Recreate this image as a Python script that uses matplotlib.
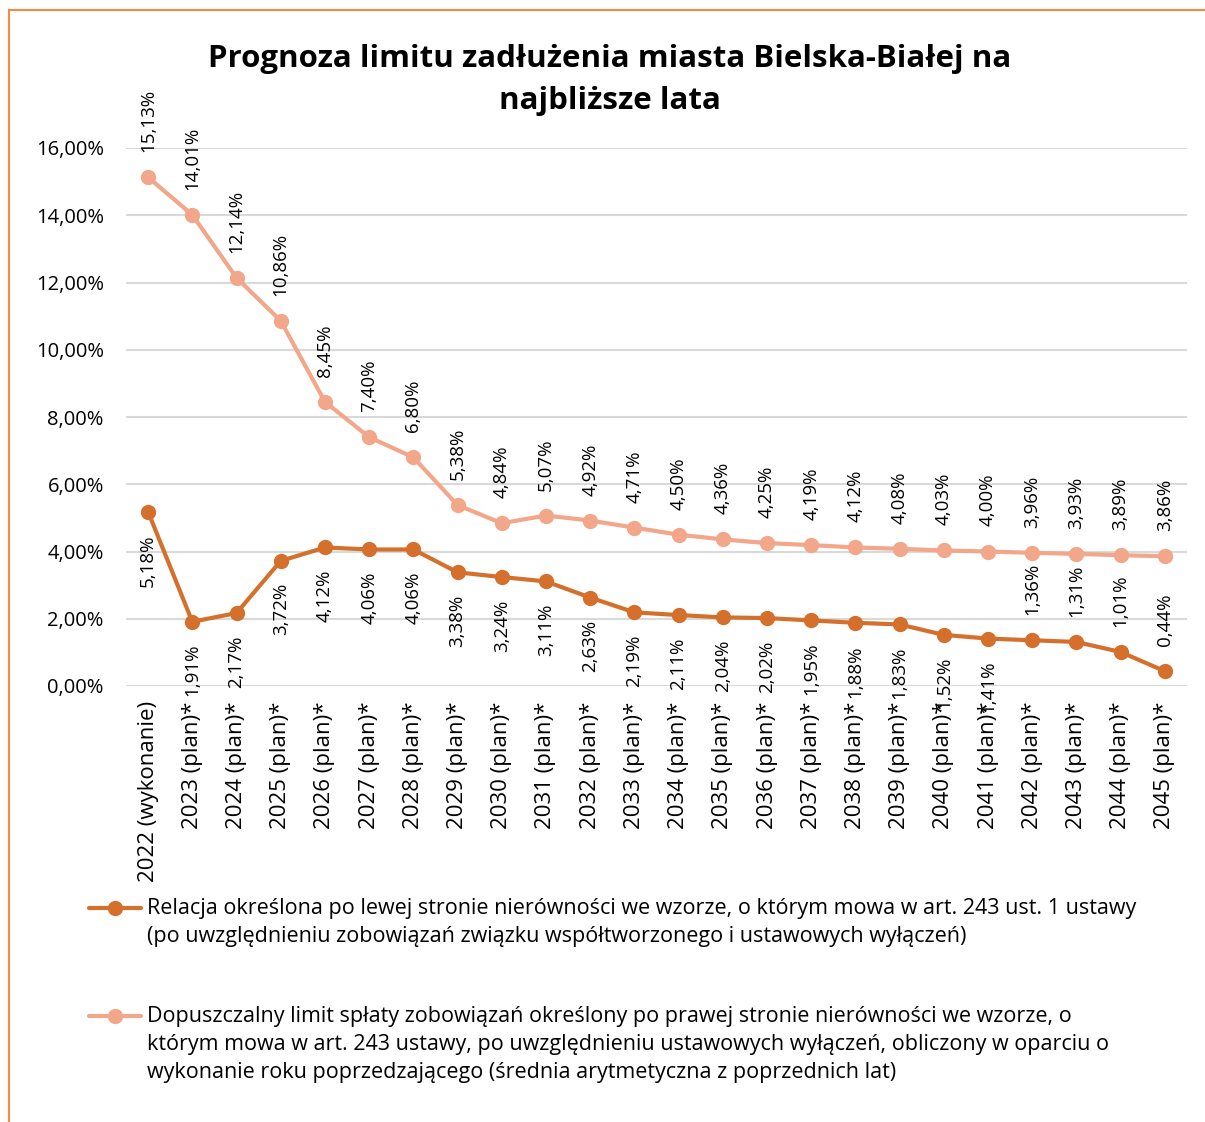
import matplotlib
matplotlib.use("Agg")
import matplotlib.pyplot as plt
from matplotlib.lines import Line2D
from matplotlib.patches import Rectangle
from matplotlib.ticker import FuncFormatter

plt.rcParams['font.family'] = ['Open Sans', 'DejaVu Sans']

categories = ["2022 (wykonanie)"] + [f"{y} (plan)*" for y in range(2023, 2046)]
relacja = [5.18, 1.91, 2.17, 3.72, 4.12, 4.06, 4.06, 3.38, 3.24, 3.11, 2.63, 2.19,
           2.11, 2.04, 2.02, 1.95, 1.88, 1.83, 1.52, 1.41, 1.36, 1.31, 1.01, 0.44]
limit = [15.13, 14.01, 12.14, 10.86, 8.45, 7.40, 6.80, 5.38, 4.84, 5.07, 4.92, 4.71,
         4.50, 4.36, 4.25, 4.19, 4.12, 4.08, 4.03, 4.00, 3.96, 3.93, 3.89, 3.86]
yticks = [0, 2, 4, 6, 8, 10, 12, 14, 16]

title = "Prognoza limitu zadłużenia miasta Bielska-Białej na\nnajbliższe lata"
legend_labels = [
    "Relacja określona po lewej stronie nierówności we wzorze, o którym mowa w art. 243 ust. 1 ustawy\n"
    "(po uwzględnieniu zobowiązań związku współtworzonego i ustawowych wyłączeń)",
    "Dopuszczalny limit spłaty zobowiązań określony po prawej stronie nierówności we wzorze, o\n"
    "którym mowa w art. 243 ustawy, po uwzględnieniu ustawowych wyłączeń, obliczony w oparciu o\n"
    "wykonanie roku poprzedzającego (średnia arytmetyczna z poprzednich lat)",
]

DARK = "#D4702C"
LIGHT = "#F2A68A"

W, H = 1205, 1122
fig = plt.figure(figsize=(W / 100, H / 100), dpi=100)

# frame
fig.patches.append(Rectangle((9 / W, -0.05), 1.2, 1 - 10 / H + 0.05, transform=fig.transFigure,
                             fill=False, edgecolor="#F58A45", linewidth=1.5, zorder=0))

ax = fig.add_axes([126 / W, 1 - 686 / H, (1187 - 126) / W, (686 - 148) / H])
x = list(range(len(categories)))
ax.plot(x, limit, color=LIGHT, lw=3, marker="o", ms=10, zorder=3, solid_capstyle="round")
ax.plot(x, relacja, color=DARK, lw=3, marker="o", ms=10, zorder=4, solid_capstyle="round")

ax.set_xlim(-0.5, len(categories) - 0.5)
ax.set_ylim(0, 16)
ax.set_yticks(yticks)
ax.yaxis.set_major_formatter(FuncFormatter(lambda v, p: f"{v:.2f}%".replace(".", ",")))
ax.set_xticks(x)
ax.set_xticklabels(categories, rotation=90, ha="center", va="top")
ax.tick_params(axis="both", length=0, colors="black")
ax.tick_params(axis="y", pad=16, labelsize=14.5)
ax.tick_params(axis="x", pad=11, labelsize=16)
ax.grid(axis="y", color="#D9D9D9", lw=1.5)
ax.set_axisbelow(True)
for s in ax.spines.values():
    s.set_visible(False)

def fmt(v):
    return f"{v:.2f}%".replace(".", ",")

for i, v in enumerate(limit):
    ax.annotate(fmt(v), (i, v), xytext=(0, 18), textcoords="offset points",
                rotation=90, ha="center", va="bottom", fontsize=13.5)
for i, v in enumerate(relacja):
    if i < 20:
        ax.annotate(fmt(v), (i, v), xytext=(0, -16), textcoords="offset points",
                    rotation=90, ha="center", va="top", fontsize=13.5)
    else:
        ax.annotate(fmt(v), (i, v), xytext=(0, 18), textcoords="offset points",
                    rotation=90, ha="center", va="bottom", fontsize=13.5)

fig.text(610 / W, 1 - 80 / H, title, ha="center", va="center", fontsize=22.5,
         fontweight="bold", linespacing=1.5)

# legend
for (ly, col, lab) in [(908, DARK, legend_labels[0]), (1016, LIGHT, legend_labels[1])]:
    yf = 1 - ly / H
    fig.add_artist(Line2D([89 / W, 141 / W], [yf, yf], transform=fig.transFigure,
                          color=col, lw=3, solid_capstyle="round"))
    fig.add_artist(Line2D([115 / W], [yf], transform=fig.transFigure, color=col,
                          marker="o", ms=10, lw=0))
    fig.text(147 / W, yf + 10 / H, lab, ha="left", va="top", fontsize=15.5, linespacing=1.45)

fig.savefig("out.png", dpi=100)
